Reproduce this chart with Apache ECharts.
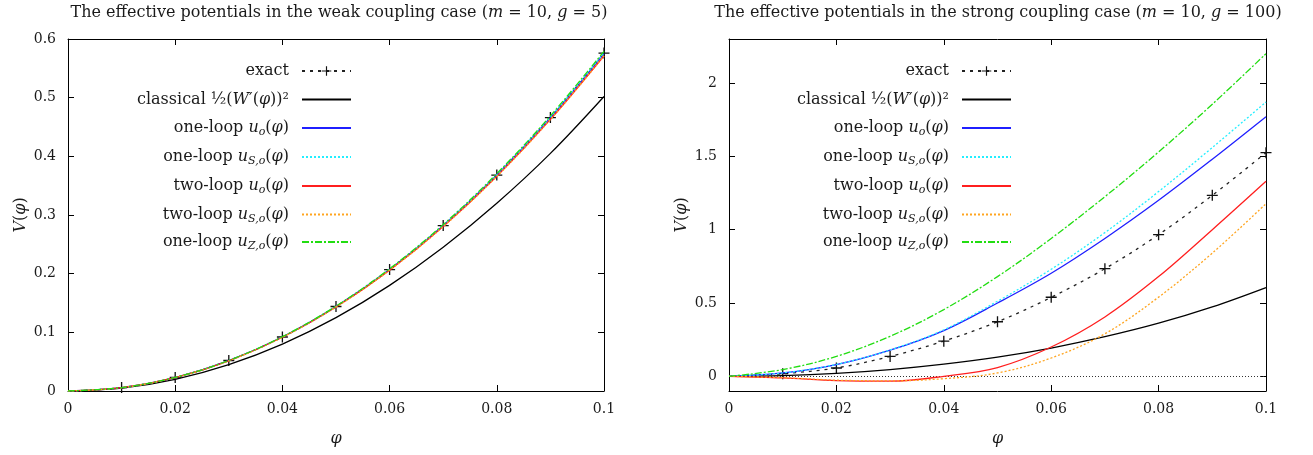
<!DOCTYPE html>
<html>
<head>
<meta charset="utf-8">
<script src="https://cdn.jsdelivr.net/npm/echarts@6/dist/echarts.min.js"></script>
<style>
  html, body { margin: 0; background: #fff; }
  #chart { width: 1313px; height: 455px; }
</style>
</head>
<body>
<div id="chart"></div>
<script>
const phi = [0, 0.01, 0.02, 0.03, 0.04, 0.05, 0.06, 0.07, 0.08, 0.09, 0.1]
const xTicks = [0, 0.02, 0.04, 0.06, 0.08, 0.1]
const weakYTicks = [0, 0.1, 0.2, 0.3, 0.4, 0.5, 0.6]
const strongYTicks = [0, 0.5, 1, 1.5, 2]

// weak coupling (m = 10, g = 5)
const weakExact = [0, 0.0058, 0.023, 0.052, 0.092, 0.144, 0.207, 0.282, 0.368, 0.466, 0.576]
const weakClassical = [0, 0.005, 0.02, 0.045, 0.08, 0.125, 0.18, 0.245, 0.32, 0.405, 0.502]
const weakOneLoop = [0, 0.0058, 0.023, 0.0518, 0.0921, 0.1439, 0.207, 0.2818, 0.3682, 0.4659, 0.5752]
const weakOneLoopS = [0, 0.0058, 0.023, 0.0519, 0.0922, 0.1441, 0.2074, 0.2823, 0.3688, 0.4667, 0.5762]
const weakTwoLoop = [0, 0.0057, 0.0229, 0.0515, 0.0916, 0.1431, 0.2059, 0.2802, 0.3659, 0.463, 0.5715]
const weakTwoLoopS = [0, 0.0057, 0.0229, 0.0515, 0.0915, 0.143, 0.2057, 0.28, 0.3656, 0.4626, 0.571]
const weakOneLoopZ = [0, 0.0058, 0.0231, 0.0521, 0.0926, 0.1447, 0.2084, 0.2837, 0.3706, 0.469, 0.579]

// strong coupling (m = 10, g = 100)
const strongExact = [0, 0.018, 0.057, 0.136, 0.24, 0.372, 0.539, 0.734, 0.966, 1.234, 1.525]
const strongClassical = [0, 0.005, 0.02, 0.046, 0.083, 0.131, 0.193, 0.27, 0.362, 0.473, 0.605]
const strongOneLoop = [0, 0.023, 0.08, 0.178, 0.312, 0.5, 0.703, 0.94, 1.2, 1.48, 1.77]
const strongOneLoopS = [0, 0.023, 0.081, 0.18, 0.317, 0.512, 0.73, 0.98, 1.26, 1.56, 1.87]
const strongTwoLoop = [0, -0.011, -0.029, -0.033, 0.0, 0.06, 0.2, 0.405, 0.68, 1.0, 1.33]
const strongTwoLoopS = [0, -0.009, -0.026, -0.031, -0.016, 0.023, 0.125, 0.29, 0.54, 0.84, 1.177]
const strongOneLoopZ = [0, 0.046, 0.136, 0.273, 0.455, 0.68, 0.94, 1.225, 1.53, 1.855, 2.2]

const FONT = 'DejaVu Serif'
const TXT = '#1a1a1a'
const PLUS = 'path://M4.4,0h1.2v4.4h4.4v1.2h-4.4v4.4h-1.2v-4.4h-4.4v-1.2h4.4z'

const rich = {
  n: { fontFamily: FONT, fontSize: 16, fontWeight: 'normal', color: TXT, lineHeight: 20, verticalAlign: 'middle' },
  i: { fontFamily: FONT, fontSize: 16, fontWeight: 'normal', color: TXT, lineHeight: 20, fontStyle: 'italic', verticalAlign: 'middle' },
  s: { fontFamily: FONT, fontSize: 11, fontWeight: 'normal', color: TXT, lineHeight: 11, fontStyle: 'italic', verticalAlign: 'bottom' },
}

const labels = {
  exact: '{n|exact}',
  classical: '{n|classical ½(}{i|W}{n|′(}{i|φ}{n|))²}',
  one: '{n|one-loop }{i|u}{s|o}{n|(}{i|φ}{n|)}',
  oneS: '{n|one-loop }{i|u}{s|S,o}{n|(}{i|φ}{n|)}',
  two: '{n|two-loop }{i|u}{s|o}{n|(}{i|φ}{n|)}',
  twoS: '{n|two-loop }{i|u}{s|S,o}{n|(}{i|φ}{n|)}',
  oneZ: '{n|one-loop }{i|u}{s|Z,o}{n|(}{i|φ}{n|)}',
}
const styles = {
  exact: { color: '#222', type: [3, 5] },
  classical: { color: '#000', type: 'solid' },
  one: { color: '#1f1fff', type: 'solid' },
  oneS: { color: '#22eeff', type: [2, 2] },
  two: { color: '#ff1f1f', type: 'solid' },
  twoS: { color: '#ffa520', type: [2, 2] },
  oneZ: { color: '#22dd11', type: [7, 2, 2, 2] },
}
const keys = ['exact', 'classical', 'one', 'oneS', 'two', 'twoS', 'oneZ']

function panelSeries(prefix, idx, sets) {
  return keys.map((k, j) => {
    const st = styles[k]
    const s = {
      name: prefix + k,
      type: 'line',
      xAxisIndex: idx * 2,
      yAxisIndex: idx * 2,
      data: phi.map((x, i) => [x, sets[j][i]]),
      smooth: 0.35,
      symbol: 'none',
      lineStyle: { color: st.color, width: 1.3, type: st.type },
      itemStyle: { color: st.color },
      z: 2 + j,
    }
    if (k === 'exact') {
      s.symbol = PLUS
      s.symbolSize = 11
      s.showSymbol = true
      s.itemStyle = { color: '#111', borderWidth: 0 }
      s.data = phi.map((x, i) => (i === 0 ? { value: [x, sets[j][i]], symbol: 'none' } : [x, sets[j][i]]))
    }
    return s
  })
}

function axisPair(idx, yMin, yMax, yTicks) {
  const line = { show: true, onZero: false, lineStyle: { color: '#000', width: 1 } }
  const tick = { inside: true, length: 6, lineStyle: { color: '#000' } }
  const lbl = { color: TXT, fontFamily: FONT, fontSize: 14 }
  const xs = [
    {
      type: 'value', gridIndex: idx, min: 0, max: 0.1,
      axisLine: line, splitLine: { show: false },
      axisTick: { ...tick, customValues: xTicks },
      axisLabel: { ...lbl, margin: 11, customValues: xTicks },
      name: '{i|φ}', nameLocation: 'middle', nameGap: 38,
      nameTextStyle: { rich },
    },
    {
      type: 'value', gridIndex: idx, position: 'top', min: 0, max: 0.1,
      axisLine: line, splitLine: { show: false },
      axisTick: { ...tick, customValues: xTicks },
      axisLabel: { show: false, customValues: xTicks },
    },
  ]
  const ys = [
    {
      type: 'value', gridIndex: idx, min: yMin, max: yMax,
      axisLine: line, axisTick: { ...tick, customValues: yTicks }, splitLine: { show: false },
      axisLabel: { ...lbl, margin: 12, customValues: yTicks },
      name: '{i|V}{n|(}{i|φ}{n|)}', nameLocation: 'middle', nameRotate: 90, nameGap: 37,
      nameTextStyle: { rich },
    },
    {
      type: 'value', gridIndex: idx, position: 'right', min: yMin, max: yMax,
      axisLine: line, axisTick: { ...tick, customValues: yTicks }, splitLine: { show: false },
      axisLabel: { show: false, customValues: yTicks },
    },
  ]
  return { xs, ys }
}

function panelLegends(prefix, rightPx) {
  const rows = [73, 101.5, 130, 159, 188, 216.5, 244]
  return keys.map((k, j) => ({
    data: [prefix + k],
    orient: 'vertical',
    align: 'right',
    right: rightPx,
    top: rows[j] - 10,
    padding: 0,
    itemWidth: 49,
    itemHeight: 12,
    selectedMode: false,
    itemStyle: k === 'exact' ? {} : { opacity: 0 },
    formatter: () => labels[k],
    textStyle: { rich, padding: [0, 8, 0, 0] },
  }))
}

const weak = axisPair(0, 0, 0.6, weakYTicks)
const strong = axisPair(1, -0.1, 2.3, strongYTicks)

const strongSeries = panelSeries('R-', 1, [strongExact, strongClassical, strongOneLoop, strongOneLoopS, strongTwoLoop, strongTwoLoopS, strongOneLoopZ])
strongSeries[1].markLine = {
  silent: true,
  symbol: ['none', 'none'],
  label: { show: false },
  lineStyle: { color: '#333', width: 1, type: [1, 2] },
  data: [{ yAxis: 0 }],
}

const chart = echarts.init(document.getElementById('chart'))
chart.setOption({
  animation: false,
  backgroundColor: '#fff',
  title: [
    {
      text: '{n|The effective potentials in the weak coupling case (}{i|m}{n| = 10, }{i|g}{n| = 5)}',
      left: 339, top: 3, textAlign: 'center', padding: 0,
      textStyle: { rich, fontWeight: 'normal' },
    },
    {
      text: '{n|The effective potentials in the strong coupling case (}{i|m}{n| = 10, }{i|g}{n| = 100)}',
      left: 998, top: 3, textAlign: 'center', padding: 0,
      textStyle: { rich, fontWeight: 'normal' },
    },
  ],
  grid: [
    { left: 68, right: 1313 - 604, top: 39, bottom: 455 - 391 },
    { left: 729, right: 1313 - 1266, top: 39, bottom: 455 - 391 },
  ],
  xAxis: [...weak.xs, ...strong.xs],
  yAxis: [...weak.ys, ...strong.ys],
  legend: [...panelLegends('L-', 1313 - 352), ...panelLegends('R-', 1313 - 1012)],
  series: [
    ...panelSeries('L-', 0, [weakExact, weakClassical, weakOneLoop, weakOneLoopS, weakTwoLoop, weakTwoLoopS, weakOneLoopZ]),
    ...strongSeries,
  ],
})
window.addEventListener('resize', () => chart.resize())
</script>
</body>
</html>
